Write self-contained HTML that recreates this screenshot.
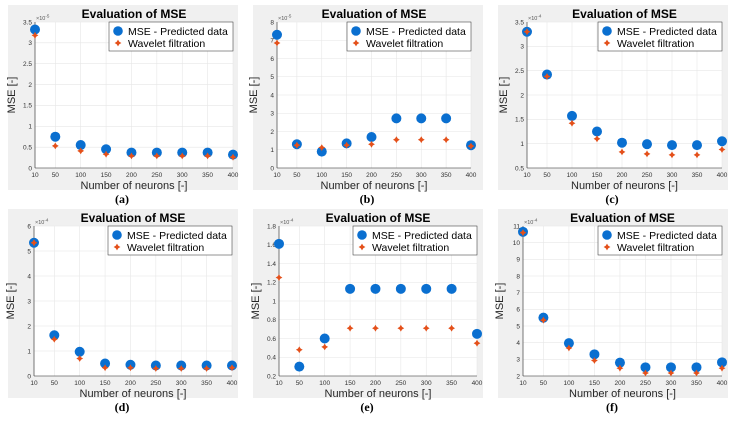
<!DOCTYPE html>
<html><head><meta charset="utf-8"><style>
html,body{margin:0;padding:0;background:#fff;width:737px;height:421px;overflow:hidden}
svg{display:block;font-family:"Liberation Sans",Arial,sans-serif}
</style></head><body>
<svg id="fig" width="737" height="421" viewBox="0 0 737 421" xmlns="http://www.w3.org/2000/svg"></svg>
<script>
const xCats=[10,50,100,150,200,250,300,350,400];
const aBlue=[3.32,0.75,0.55,0.45,0.37,0.37,0.37,0.37,0.32];
const aRed=[3.18,0.53,0.41,0.33,0.29,0.29,0.29,0.29,0.26];
const aTicks=[0,0.5,1,1.5,2,2.5,3,3.5];
const bBlue=[7.3,1.3,0.9,1.35,1.7,2.72,2.72,2.72,1.25];
const bRed=[6.85,1.25,1.12,1.25,1.3,1.55,1.55,1.55,1.2];
const bTicks=[0,1,2,3,4,5,6,7,8];
const cBlue=[3.3,2.42,1.57,1.25,1.02,0.99,0.97,0.97,1.05];
const cRed=[3.3,2.38,1.42,1.1,0.83,0.79,0.77,0.77,0.88];
const cTicks=[0.5,1,1.5,2,2.5,3,3.5];
const dBlue=[5.33,1.63,0.97,0.5,0.45,0.42,0.42,0.42,0.42];
const dRed=[5.33,1.47,0.7,0.33,0.33,0.3,0.3,0.3,0.33];
const dTicks=[0,1,2,3,4,5,6];
const eBlue=[1.61,0.3,0.6,1.13,1.13,1.13,1.13,1.13,0.65];
const eRed=[1.25,0.48,0.51,0.71,0.71,0.71,0.71,0.71,0.55];
const eTicks=[0.2,0.4,0.6,0.8,1,1.2,1.4,1.6,1.8];
const fBlue=[10.65,5.5,3.97,3.3,2.8,2.52,2.52,2.52,2.82];
const fRed=[10.6,5.35,3.68,2.93,2.47,2.18,2.18,2.18,2.47];
const fTicks=[2,3,4,5,6,7,8,9,10,11];

const panels=[
 {id:'a',ox:0,L:35,R:233,T:22,B:168,blue:aBlue,red:aRed,ticks:aTicks,exp:'-5'},
 {id:'b',ox:245,L:277,R:471,T:22,B:168,blue:bBlue,red:bRed,ticks:bTicks,exp:'-5'},
 {id:'c',ox:490,L:527,R:722,T:22,B:168,blue:cBlue,red:cRed,ticks:cTicks,exp:'-4'},
 {id:'d',ox:0,L:34,R:232,T:226,B:376,blue:dBlue,red:dRed,ticks:dTicks,exp:'-4'},
 {id:'e',ox:245,L:279,R:477,T:226,B:376,blue:eBlue,red:eRed,ticks:eTicks,exp:'-4'},
 {id:'f',ox:490,L:523,R:722,T:226,B:376,blue:fBlue,red:fRed,ticks:fTicks,exp:'-4'}
];
const NS='http://www.w3.org/2000/svg';
const fig=document.getElementById('fig');
function mk(tag,attrs,parent,text){const e=document.createElementNS(NS,tag);for(const k in attrs)e.setAttribute(k,attrs[k]);if(text!==undefined)e.textContent=text;parent.appendChild(e);return e;}
function star(g,x,y){
  const pts=[];for(let i=0;i<8;i++){const r=i%2?1.8:3.4;const a=Math.PI/4*i-Math.PI/2;pts.push((x+r*Math.cos(a)).toFixed(1)+','+(y+r*Math.sin(a)).toFixed(1));}
  const p=mk('polygon',{points:pts.join(' '),fill:'#E4501A'},g);
  
  
}
panels.forEach(P=>{
  const g=mk('g',{},fig);
  
  
  const rowTop=P.T-17, rowBot=P.B+22;
  mk('rect',{x:P.ox+8,y:rowTop,width:230,height:rowBot-rowTop,fill:'#f0f0f0'},g);
  mk('rect',{x:P.L,y:P.T,width:P.R-P.L,height:P.B-P.T,fill:'#fff'},g);
  const y0=P.ticks[0],y1=P.ticks[P.ticks.length-1];
  const sx=v=>P.L+(v-10)/(400-10)*(P.R-P.L);
  const sy=v=>P.B-(v-y0)/(y1-y0)*(P.B-P.T);
  xCats.forEach(v=>{mk('line',{x1:sx(v),x2:sx(v),y1:P.T,y2:P.B,stroke:'#e6e6e6','stroke-width':0.6},g);});
  P.ticks.forEach(v=>{mk('line',{x1:P.L,x2:P.R,y1:sy(v),y2:sy(v),stroke:'#e6e6e6','stroke-width':0.6},g);});
  mk('line',{x1:P.L,x2:P.L,y1:P.T,y2:P.B,stroke:'#262626','stroke-width':0.6},g);
  mk('line',{x1:P.L,x2:P.R,y1:P.B,y2:P.B,stroke:'#262626','stroke-width':0.6},g);
  xCats.forEach(v=>{
    const t=mk('text',{x:sx(v),y:P.B+9,'font-size':6.5,'text-anchor':'middle',fill:'#333'},g,String(v));
    
  });
  P.ticks.forEach(v=>{
    const t=mk('text',{x:P.L-3,y:sy(v)+2.3,'font-size':6.5,'text-anchor':'end',fill:'#333'},g,String(v));
    
  });
  const ex=mk('text',{x:P.L+1,y:P.T-2,'font-size':5.5,fill:'#555'},g);
  
  ex.appendChild(document.createTextNode('×10'));
  mk('tspan',{dy:-2.5,'font-size':4.5},ex,P.exp);
  P.blue.forEach((v,i)=>{
    const c=mk('circle',{cx:sx(xCats[i]),cy:sy(v),r:5,fill:'#0a6fd0'},g);
    
  });
  P.red.forEach((v,i)=>star(g,sx(xCats[i]),sy(v)));
  const cx=(P.L+P.R)/2;
  const ti=mk('text',{x:cx,y:P.T-4,'font-size':12,'font-weight':'bold','text-anchor':'middle',fill:'#000'},g,'Evaluation of MSE');
  
  const xl=mk('text',{x:cx,y:P.B+21,'font-size':11,'text-anchor':'middle',fill:'#262626'},g,'Number of neurons [-]');
  
  const yl=mk('text',{x:0,y:0,'font-size':11,'text-anchor':'middle',fill:'#262626',transform:'translate('+(P.L-20)+','+((P.T+P.B)/2)+') rotate(-90)'},g,'MSE [-]');
  
  const cap=mk('text',{x:P.ox+122,y:P.B+35,'font-size':12,'font-weight':'bold','text-anchor':'middle','font-family':'Liberation Serif, serif',fill:'#000'},g,'('+P.id+')');
  
  const lg=mk('g',{},g);
  
  const lw=124,lx=P.R-lw;
  mk('rect',{x:lx,y:P.T,width:lw,height:29,fill:'#fff',stroke:'#262626','stroke-width':0.5},lg);
  mk('circle',{cx:lx+9,cy:P.T+9,r:4.8,fill:'#0a6fd0'},lg);
  const l1=mk('text',{x:lx+19,y:P.T+13,'font-size':10.5,fill:'#000'},lg,'MSE - Predicted data');
  
  star(lg,lx+9,P.T+21);
  const l2=mk('text',{x:lx+19,y:P.T+25,'font-size':10.5,fill:'#000'},lg,'Wavelet filtration');
  
});
</script>
</body></html>
